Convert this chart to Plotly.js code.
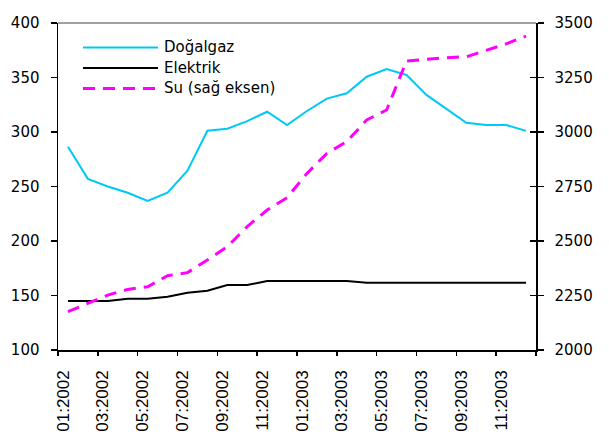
<!DOCTYPE html>
<html>
<head>
<meta charset="utf-8">
<script src="https://cdn.plot.ly/plotly-3.0.1.min.js"></script>
<style>html,body{margin:0;padding:0;background:#fff;}#chart{width:609px;height:441px;}</style>
</head>
<body>
<div id="chart"></div>
<script>
// ---- data ----
const months = ['01:2002','02:2002','03:2002','04:2002','05:2002','06:2002','07:2002','08:2002','09:2002','10:2002','11:2002','12:2002',
                '01:2003','02:2003','03:2003','04:2003','05:2003','06:2003','07:2003','08:2003','09:2003','10:2003','11:2003','12:2003'];
const tickLabels = ['01:2002','03:2002','05:2002','07:2002','09:2002','11:2002','01:2003','03:2003','05:2003','07:2003','09:2003','11:2003'];
const dogalgaz = [286.5,257,250,244.3,236.7,244.3,264.5,301.2,303,310,318.6,306.4,319.3,330.6,335.5,350.7,357.8,352.3,334,321,308.5,306.4,306.4,301];
const elektrik = [145,145,145,147,147,148.9,152.6,154.4,159.6,159.6,163.3,163.3,163.3,163.3,163.3,161.8,161.8,161.8,161.8,161.8,161.8,161.8,161.8,161.8];
const su = [2176,2214,2252,2278,2290,2341,2355,2413,2474,2566,2642,2699,2810,2902,2956,3055,3101,3326,3334,3341,3345,3373,3404,3440];
const seriesNames = ['Doğalgaz','Elektrik','Su (sağ eksen)'];
const leftTicks = [100,150,200,250,300,350,400];
const rightTicks = [2000,2250,2500,2750,3000,3250,3500];

// ---- build ----
const xs = months.map((m,i)=>i+1);
const labelPos = tickLabels.map(l=>months.indexOf(l)+1-0.25);
const boundaryPos = tickLabels.map(l=>months.indexOf(l)+0.5).concat([months.length+0.5]);

const FONT = 'DejaVu Sans';
const cyan = '#00C8F5', magenta = '#FF00FF';

const traces = [
  {x:xs, y:dogalgaz, name:seriesNames[0], mode:'lines', line:{color:cyan,width:2}, xaxis:'x', yaxis:'y'},
  {x:xs, y:elektrik, name:seriesNames[1], mode:'lines', line:{color:'#000',width:2}, xaxis:'x', yaxis:'y'},
  {x:xs, y:su, name:seriesNames[2], mode:'lines', line:{color:magenta,width:3,dash:'12px,8px'}, xaxis:'x', yaxis:'y2'},
  {x:[1], y:[2000], mode:'lines', showlegend:false, hoverinfo:'skip', xaxis:'x2', yaxis:'y3'}
];

const L = 58, R = 536, T = 23, B = 350, W = 609, H = 441;
const px2x = p => (p-L)/(R-L);
const px2y = p => (B-p)/(B-T);

const legendRows = [47.5, 68, 88.5];
const legendStyles = [{color:cyan,width:2},{color:'#000',width:2},{color:magenta,width:3,dash:'12px,8px'}];

const shapes = [
  {type:'line', xref:'paper', yref:'paper', x0:0, x1:1, y0:1, y1:1, line:{color:'#808080', width:1.5}}
];
const annotations = [];
seriesNames.forEach((n,i)=>{
  shapes.push({type:'line', xref:'paper', yref:'paper', x0:px2x(83), x1:px2x(158), y0:px2y(legendRows[i]), y1:px2y(legendRows[i]), line:legendStyles[i]});
  annotations.push({xref:'paper', yref:'paper', x:px2x(162), y:px2y(legendRows[i]), xanchor:'left', yanchor:'middle', text:n, showarrow:false, font:{family:FONT,size:15,color:'#000'}});
});

const layout = {
  width:W, height:H,
  margin:{l:L, r:W-R, t:T, b:H-B, pad:0},
  paper_bgcolor:'#fff', plot_bgcolor:'#fff',
  showlegend:false,
  xaxis:{range:[0.5,24.5], tickmode:'array', tickvals:labelPos, ticktext:tickLabels, tickangle:-90, ticks:'',
         showline:true, linecolor:'#000', linewidth:1.5, showgrid:false, zeroline:false,
         tickfont:{family:'Liberation Sans', size:17, color:'#000'}, ticklabelstandoff:12},
  xaxis2:{overlaying:'x', anchor:'y', side:'bottom', range:[0.5,24.5], tickmode:'array', tickvals:boundaryPos,
          showticklabels:false, ticks:'outside', ticklen:5, tickwidth:1.5, tickcolor:'#000', showline:false, showgrid:false, zeroline:false},
  yaxis:{range:[100,400], tickmode:'array', tickvals:leftTicks, ticks:'outside', ticklen:6, tickwidth:1.5, tickcolor:'#000',
         showline:true, linecolor:'#000', linewidth:1.5, showgrid:false, zeroline:false,
         tickfont:{family:FONT, size:15, color:'#000'}, ticklabelstandoff:8},
  yaxis2:{overlaying:'y', side:'right', anchor:'x', range:[2000,3500], tickmode:'array', tickvals:rightTicks, ticks:'outside', ticklen:6, tickwidth:1.5, tickcolor:'#000',
          showline:true, linecolor:'#000', linewidth:1.5, showgrid:false, zeroline:false,
          tickfont:{family:FONT, size:15, color:'#000'}, ticklabelstandoff:8},
  yaxis3:{overlaying:'y', side:'right', anchor:'x', range:[2000,3500], tickmode:'array', tickvals:rightTicks, ticks:'inside', ticklen:6, tickwidth:1.5, tickcolor:'#000',
          showticklabels:false, showline:false, showgrid:false, zeroline:false},
  shapes:shapes, annotations:annotations
};

Plotly.newPlot('chart', traces, layout, {staticPlot:true, displayModeBar:false});
</script>
</body>
</html>
